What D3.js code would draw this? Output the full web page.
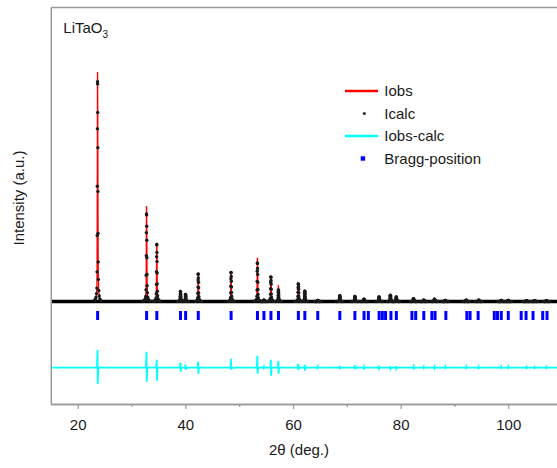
<!DOCTYPE html>
<html>
<head>
<meta charset="utf-8">
<script src="https://cdn.jsdelivr.net/npm/d3@7"></script>
<style>
  body { margin: 0; background: #fff; }
  text { font-family: "Liberation Sans", Arial, sans-serif; }
</style>
</head>
<body>
<svg id="chart" width="557" height="468"></svg>
<script>
// counts level of the flat background, and where the extra rows sit
const BACKGROUND = 1000
const DIFF_OFFSET = -5620
const BRAGG_LEVEL = -400

// reflections seen in the pattern
const peakPos    = [23.7, 32.8, 34.7, 39.1, 40.05, 42.4, 48.5, 53.4, 54.6, 55.9, 57.3, 61.0, 62.2, 64.6, 68.7, 71.5, 73.2, 76.0, 78.1, 79.2, 82.4, 84.3, 86.3, 88.3, 92.2, 94.5, 98.7, 100.0, 103.4, 104.9, 107.1]
const obsHeight  = [22950, 9550, 5880, 1080, 750, 2850, 2980, 4380, 150, 2550, 1550, 1820, 1080, 120, 650, 580, 250, 480, 650, 480, 300, 150, 250, 120, 150, 150, 120, 120, 100, 100, 100]
const calcHeight = [21980, 8750, 5700, 1000, 700, 2750, 2900, 3850, 140, 2450, 1150, 1750, 1030, 110, 580, 500, 230, 450, 620, 450, 280, 140, 240, 110, 140, 140, 110, 110, 90, 90, 90]
const diffUp     = [1770, 1600, 800, 500, 300, 600, 900, 1200, 100, 800, 700, 370, 300, 100, 200, 250, 100, 200, 150, 150, 120, 100, 100, 100, 100, 100, 100, 100, 80, 80, 80]
const diffDown   = [-1630, -1400, -1300, -400, -200, -600, -200, -600, -50, -800, -600, -230, -300, -50, -150, -150, -80, -100, -100, -100, -80, -50, -80, -50, -50, -50, -50, -50, -50, -50, -50]

// peak profile (offset in deg, relative height)
const profileOffset = [-0.6, -0.4, -0.3, -0.2, -0.14, -0.1, -0.08, -0.06, -0.04, -0.02, 0, 0.02, 0.04, 0.06, 0.08, 0.1, 0.14, 0.2, 0.3, 0.4, 0.6]
const profileShape  = [0.005, 0.012, 0.02, 0.036, 0.061, 0.135, 0.30, 0.524, 0.786, 1.0, 0.99, 0.86, 0.70, 0.50, 0.31, 0.18, 0.10, 0.05, 0.025, 0.012, 0.005]

const braggPos = [23.7, 32.8, 34.7, 39.1, 40.05, 42.4, 48.5, 53.4, 54.6, 55.9, 57.3, 61.0, 62.2, 64.6, 68.7, 71.5, 73.2, 74.0, 76.0, 76.6, 77.2, 78.2, 79.2, 82.1, 82.8, 84.3, 85.8, 86.4, 88.4, 92.3, 92.9, 94.4, 97.4, 98.0, 98.7, 100.0, 102.4, 103.3, 104.6, 106.4, 107.2]

const xTicks = [20, 40, 60, 80, 100]
const xMinorTicks = [30, 50, 70, 90, 110]
const legendLabels = ['Iobs', 'Icalc', 'Iobs-calc', 'Bragg-position']

const svg = d3.select('#chart')

const x = d3.scaleLinear().domain([15, 110]).range([50.8, 562.1])
const y = d3.scaleLinear().domain([-9250, 30450]).range([404, 7])

// build the series from the peak table
const obsPoints = [[15, BACKGROUND]]
const calcDots = []
const diffPoints = [[15, 0]]
peakPos.forEach((p, i) => {
    profileOffset.forEach((o, j) => {
        obsPoints.push([p + o, BACKGROUND + profileShape[j] * obsHeight[i]])
        calcDots.push([p + o, BACKGROUND + profileShape[j] * calcHeight[i]])
    })
    diffPoints.push([p - 0.12, 0], [p - 0.02, diffUp[i]], [p + 0.02, diffDown[i]], [p + 0.12, 0])
})
obsPoints.push([110, BACKGROUND])
diffPoints.push([110, 0])

svg.append('clipPath')
    .attr('id', 'plotClip')
  .append('rect')
    .attr('x', 50.8).attr('y', 7)
    .attr('width', 520).attr('height', 397)

const plot = svg.append('g').attr('clip-path', 'url(#plotClip)')

const line = d3.line().x(d => x(d[0])).y(d => y(d[1]))

// Iobs
plot.append('path')
    .datum(obsPoints)
    .attr('fill', 'none')
    .attr('stroke', '#ff0000')
    .attr('stroke-width', 1.3)
    .attr('d', line)

// Icalc: packed markers along the background, then the peak markers
plot.append('path')
    .datum([[15, BACKGROUND], [110, BACKGROUND]])
    .attr('fill', 'none')
    .attr('stroke', '#000')
    .attr('stroke-width', 3.6)
    .attr('d', line)

plot.append('g')
    .selectAll('circle')
    .data(calcDots)
    .join('circle')
        .attr('cx', d => x(d[0]))
        .attr('cy', d => y(d[1]))
        .attr('r', 1.7)
        .attr('fill', '#1a1a1a')

// Bragg positions
plot.append('g')
    .selectAll('rect')
    .data(braggPos)
    .join('rect')
        .attr('x', d => x(d) - 1.5)
        .attr('y', y(BRAGG_LEVEL) - 4.5)
        .attr('width', 3)
        .attr('height', 9)
        .attr('fill', '#0000ff')

// Iobs - Icalc
plot.append('path')
    .datum(diffPoints)
    .attr('fill', 'none')
    .attr('stroke', '#00ffff')
    .attr('stroke-width', 1.8)
    .attr('d', d3.line().x(d => x(d[0])).y(d => y(DIFF_OFFSET + d[1])))

// axes / frame
const axisColor = '#999'

const bottom = svg.append('g')
    .attr('transform', 'translate(0,404)')
    .call(d3.axisBottom(x).tickValues(xTicks).tickSize(5).tickPadding(10).tickSizeOuter(0))
bottom.append('g')
    .call(d3.axisBottom(x).tickValues(xMinorTicks).tickSize(3).tickFormat('').tickSizeOuter(0))

svg.append('g')
    .attr('transform', 'translate(0,7)')
    .call(d3.axisTop(x).tickValues([]).tickSizeOuter(0))

svg.append('g')
    .attr('transform', 'translate(50.8,0)')
    .call(d3.axisLeft(y).tickValues([]).tickSizeOuter(0))

svg.selectAll('.domain').attr('stroke', axisColor).attr('stroke-width', 1.5)
svg.selectAll('.tick line').attr('stroke', axisColor).attr('stroke-width', 1.2)
svg.selectAll('.tick text')
    .attr('font-size', 15)
    .attr('font-family', '"Liberation Sans", Arial, sans-serif')
    .attr('fill', '#1a1a1a')

svg.append('text')
    .attr('x', 299).attr('y', 455)
    .attr('text-anchor', 'middle')
    .attr('font-size', 15)
    .attr('fill', '#1a1a1a')
    .text('2θ (deg.)')

svg.append('text')
    .attr('transform', 'translate(24,198) rotate(-90)')
    .attr('text-anchor', 'middle')
    .attr('font-size', 15)
    .attr('fill', '#1a1a1a')
    .text('Intensity (a.u.)')

const title = svg.append('text')
    .attr('x', 63.3).attr('y', 33.3)
    .attr('font-size', 15)
    .attr('fill', '#1a1a1a')
title.append('tspan').text('LiTaO')
title.append('tspan').attr('font-size', 10).attr('dy', 5).text('3')

// legend
const legend = svg.append('g').attr('transform', 'translate(345,0)')
const rowY = [91, 113.5, 136, 158.5]

legend.append('line')
    .attr('x1', 0).attr('x2', 33).attr('y1', rowY[0]).attr('y2', rowY[0])
    .attr('stroke', '#ff0000').attr('stroke-width', 2.4)
legend.append('circle')
    .attr('cx', 19.3).attr('cy', rowY[1]).attr('r', 1.6)
    .attr('fill', '#333')
legend.append('line')
    .attr('x1', 0).attr('x2', 33).attr('y1', rowY[2]).attr('y2', rowY[2])
    .attr('stroke', '#00ffff').attr('stroke-width', 2.4)
legend.append('rect')
    .attr('x', 15.7).attr('y', rowY[3] - 2.2).attr('width', 4.4).attr('height', 4.4)
    .attr('fill', '#0000ff')

legend.selectAll('text.label')
    .data(legendLabels)
    .join('text')
        .attr('class', 'label')
        .attr('x', 39.3)
        .attr('y', (d, i) => rowY[i] + 5.2)
        .attr('font-size', 15)
        .attr('fill', '#1a1a1a')
        .text(d => d)
</script>
</body>
</html>
